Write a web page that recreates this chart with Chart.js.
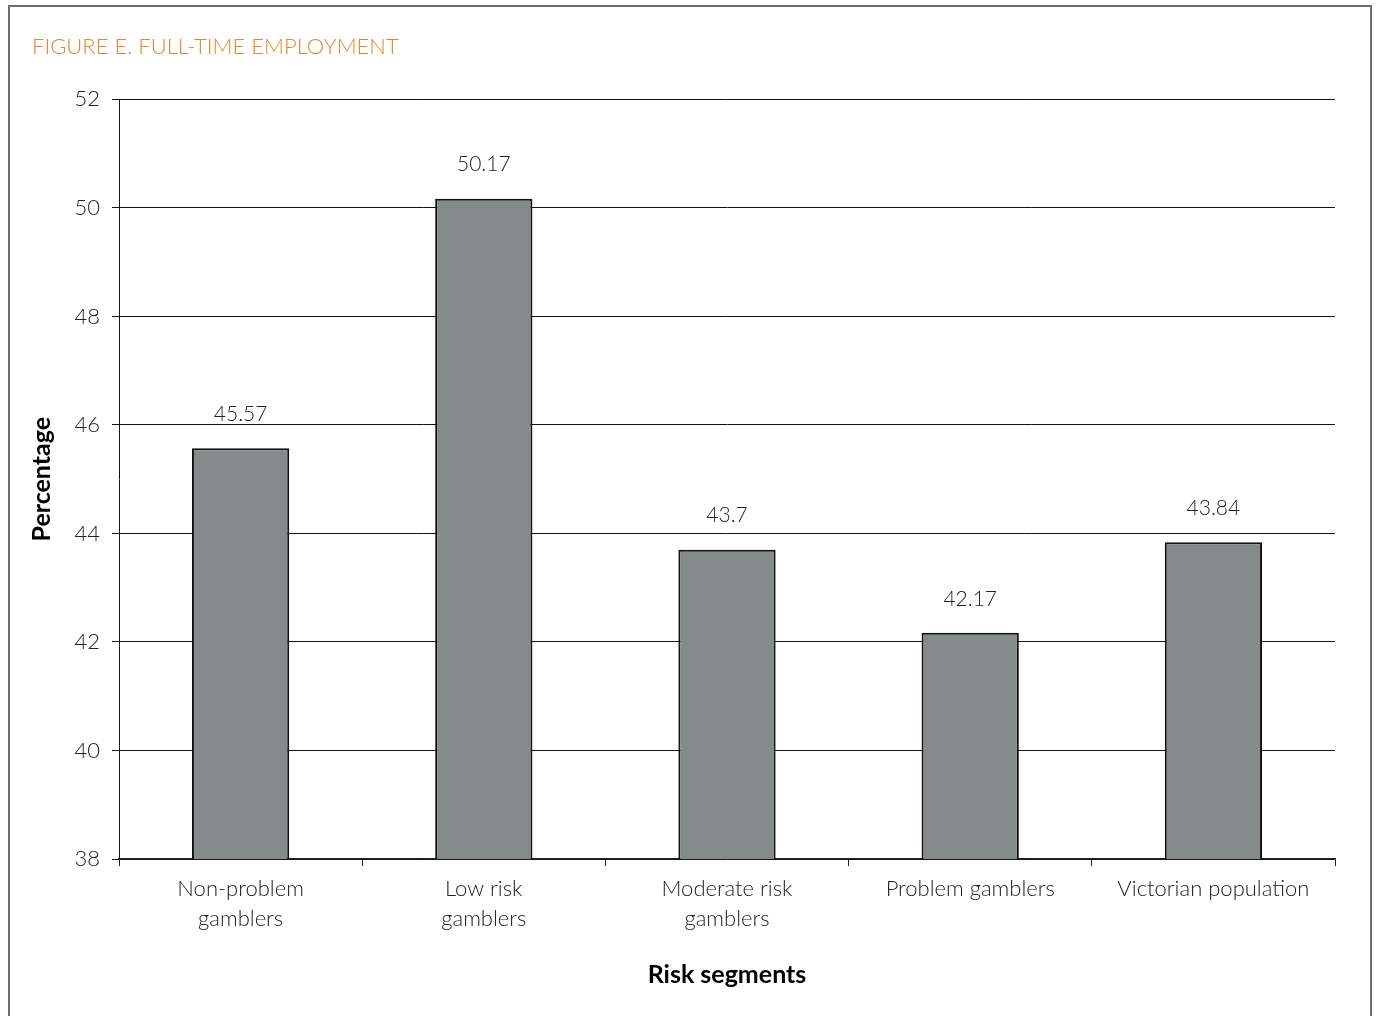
<!DOCTYPE html>
<html>
<head>
<meta charset="utf-8">
<script src="https://cdn.jsdelivr.net/npm/chart.js@4"></script>
<style>
  html, body { margin: 0; padding: 0; background: #fff; overflow: hidden; }
  #frame {
    position: absolute; left: 8px; top: 5px; width: 1364px; height: 1040px;
    border: 2px solid #6e6e6e; box-sizing: border-box;
  }
  #chart { position: absolute; left: 0; top: 0; }
</style>
</head>
<body>
<div id="frame"></div>
<canvas id="chart" width="1376" height="1016"></canvas>
<script>
const categories = [
  ["Non-problem", "gamblers"],
  ["Low risk", "gamblers"],
  ["Moderate risk", "gamblers"],
  "Problem gamblers",
  "Victorian population",
];
const values = [45.57, 50.17, 43.7, 42.17, 43.84];
const yMin = 38;
const yMax = 52;
const yStep = 2;

const FONT = "Lato, 'Open Sans', sans-serif";

// value printed above each bar
const valueLabels = {
  id: "valueLabels",
  afterDatasetsDraw(chart) {
    const { ctx } = chart;
    const meta = chart.getDatasetMeta(0);
    ctx.save();
    ctx.font = `300 21px ${FONT}`;
    ctx.fillStyle = "#222";
    ctx.textAlign = "center";
    ctx.textBaseline = "middle";
    meta.data.forEach((bar, i) => {
      ctx.fillText(String(values[i]), bar.x, bar.y - 34);
    });
    ctx.restore();
  },
};

new Chart(document.getElementById("chart"), {
  type: "bar",
  data: {
    labels: categories,
    datasets: [
      {
        data: values,
        backgroundColor: "#858a8b",
        borderColor: "#111",
        borderWidth: 2,
        borderSkipped: false,
        barPercentage: 0.4,
        categoryPercentage: 1,
      },
    ],
  },
  plugins: [valueLabels],
  options: {
    responsive: false,
    animation: false,
    layout: { padding: { left: 32, right: 41, top: 0, bottom: 0 } },
    plugins: {
      legend: { display: false },
      tooltip: { enabled: false },
      title: {
        display: true,
        text: "FIGURE E. FULL-TIME EMPLOYMENT",
        align: "start",
        color: "#e8832c",
        font: { family: FONT, size: 22, weight: 300, lineHeight: 1.2 },
        padding: { top: 34, bottom: 39 },
      },
    },
    scales: {
      x: {
        afterFit: (scale) => { scale.height = 157; },
        border: { display: true, color: "#222", width: 1.5 },
        grid: {
          display: true,
          offset: true,
          drawOnChartArea: false,
          drawTicks: true,
          tickLength: 7,
          color: "#222",
        },
        ticks: {
          color: "#222",
          padding: 8,
          maxRotation: 0,
          font: { family: FONT, size: 22, weight: 300, lineHeight: 1.36 },
        },
        title: {
          display: true,
          text: "Risk segments",
          color: "#000",
          font: { family: FONT, size: 25, weight: "bold", lineHeight: 1.2 },
          padding: { top: 0, bottom: 26 },
        },
      },
      y: {
        min: yMin,
        max: yMax,
        afterFit: (scale) => { scale.width = 87; },
        border: { display: true, color: "#111", width: 1 },
        grid: {
          color: "#111",
          lineWidth: 1,
          drawTicks: true,
          tickLength: 7,
        },
        ticks: {
          stepSize: yStep,
          color: "#222",
          padding: 12,
          font: { family: FONT, size: 22, weight: 300 },
        },
        title: {
          display: true,
          text: "Percentage",
          color: "#000",
          font: { family: FONT, size: 25, weight: "bold", lineHeight: 1 },
          padding: { top: -3, bottom: 0 },
        },
      },
    },
  },
});
</script>
</body>
</html>
